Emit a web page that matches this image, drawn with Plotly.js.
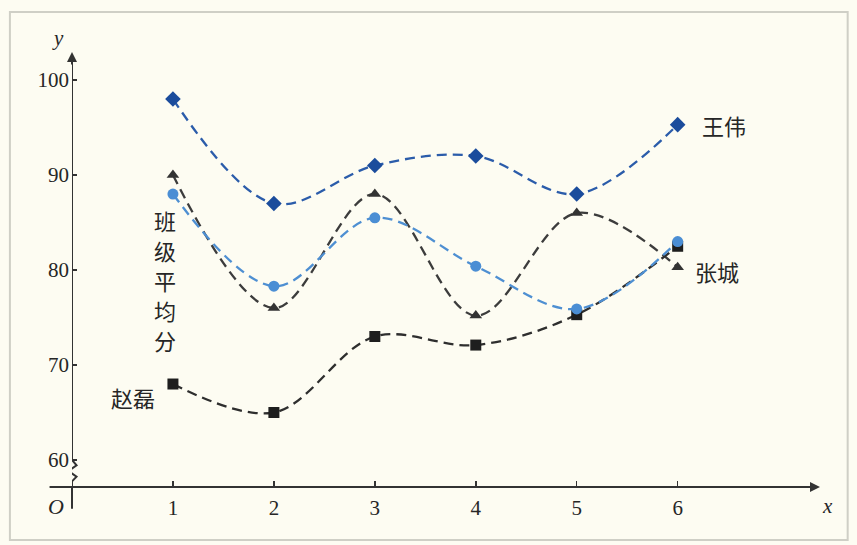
<!DOCTYPE html>
<html>
<head>
<meta charset="utf-8">
<script src="https://cdn.plot.ly/plotly-3.0.1.min.js"></script>
<style>html,body{margin:0;padding:0;background:#fdfcf2;}#chart{width:857px;height:545px;}</style>
</head>
<body>
<div id="chart"></div>
<script>
// Data
const exams = [1, 2, 3, 4, 5, 6];
const wangWei = [98, 87, 91, 92, 88, 95.3];
const classAvg = [88, 78.3, 85.5, 80.4, 75.9, 83];
const zhangCheng = [90, 76, 88, 75.2, 86, 80.3];
const zhaoLei = [68, 65, 73, 72.1, 75.3, 82.5];
const xTicks = [1, 2, 3, 4, 5, 6];
const yTicks = [60, 70, 80, 90, 100];
const names = ['王伟', '班级平均分', '张城', '赵磊'];

const dash = '10px,6px';
function series(y, name, lineColor, markerColor, symbol, size) {
  return {
    x: exams, y: y, name: name, type: 'scatter', mode: 'lines+markers',
    line: {shape: 'spline', smoothing: 1, dash: dash, width: 2.3, color: lineColor},
    marker: {symbol: symbol, size: size, color: markerColor},
    cliponaxis: false, hoverinfo: 'skip'
  };
}
const traces = [
  series(zhangCheng, names[2], '#3c3c3c', '#333333', 'triangle-up', 11),
  series(zhaoLei, names[3], '#2e2e2e', '#1e1e1e', 'square', 11),
  series(classAvg, names[1], '#4e8fd2', '#4b8ed4', 'circle', 11),
  series(wangWei, names[0], '#2b5caa', '#1b4c9c', 'diamond', 12)
];

const yMin = 57.16, yMax = 102.95;
const serif = 'Liberation Serif, DejaVu Serif, serif';
const cjk = 'Noto Sans CJK SC, sans-serif';
const axisColor = '#333333';
const textColor = '#262626';

// vertical label: one annotation per character, 30 px apart
const vertChars = names[1].split('');
const vertAnn = vertChars.map((c, i) => ({
  x: 0.92, y: 85.25 - i * 3.16, xanchor: 'center', yanchor: 'middle', text: c,
  showarrow: false, font: {family: cjk, size: 22, color: textColor}
}));

const layout = {
  width: 857, height: 545,
  margin: {l: 72, r: 37, t: 52, b: 58},
  paper_bgcolor: '#fdfcf2', plot_bgcolor: '#fdfcf2',
  showlegend: false,
  xaxis: {
    range: [0, 7.41], tickvals: xTicks, ticktext: xTicks.map(String),
    showgrid: false, zeroline: false, showline: false,
    ticks: 'inside', ticklen: 6, tickwidth: 1.5, tickcolor: axisColor,
    ticklabelstandoff: 6,
    tickfont: {family: serif, size: 21, color: textColor}
  },
  yaxis: {
    range: [yMin, yMax], tickvals: yTicks, ticktext: yTicks.map(String),
    showgrid: false, zeroline: false, showline: false,
    ticks: 'inside', ticklen: 5, tickwidth: 1.5, tickcolor: axisColor,
    ticklabelstandoff: 2,
    tickfont: {family: serif, size: 21, color: textColor}
  },
  shapes: [
    // frame of the scanned figure
    {type: 'rect', xref: 'paper', yref: 'paper', x0: -0.083, x1: 1.037, y0: -0.122, y1: 1.092,
     line: {color: '#cfcfc6', width: 2}, layer: 'below'},
    // x axis
    {type: 'line', xref: 'paper', yref: 'paper', x0: -0.03, x1: 0.995, y0: 0, y1: 0,
     line: {color: axisColor, width: 2}},
    // y axis with break
    {type: 'path', xref: 'x', yref: 'y',
     path: 'M 0,' + (yMax - 0.3) + ' L 0,60 L 0.045,59.45 L -0.035,58.85 L 0.045,58.25 L 0,57.75 L 0,' + yMin,
     line: {color: axisColor, width: 2}},
    {type: 'line', xref: 'paper', yref: 'paper', x0: 0, x1: 0, y0: 0, y1: -0.05,
     line: {color: axisColor, width: 2}}
  ],
  annotations: [
    // axis arrows
    {xref: 'paper', yref: 'paper', x: 1, y: 0, ax: -14, ay: 0, text: '', showarrow: true,
     arrowhead: 2, arrowsize: 1, arrowwidth: 2, arrowcolor: axisColor},
    {xref: 'paper', yref: 'paper', x: 0, y: 1, ax: 0, ay: 14, text: '', showarrow: true,
     arrowhead: 2, arrowsize: 1, arrowwidth: 2, arrowcolor: axisColor},
    {xref: 'paper', yref: 'paper', x: -0.008, y: 1.0, xanchor: 'right', yanchor: 'bottom',
     text: '<i>y</i>', showarrow: false, font: {family: serif, size: 21, color: textColor}},
    {xref: 'paper', yref: 'paper', x: 1.0, y: -0.012, xanchor: 'left', yanchor: 'top',
     text: '<i>x</i>', showarrow: false, font: {family: serif, size: 21, color: textColor}},
    {xref: 'paper', yref: 'paper', x: -0.008, y: -0.012, xanchor: 'right', yanchor: 'top',
     text: '<i>O</i>', showarrow: false, font: {family: serif, size: 22, color: textColor}},
    // series labels
    {x: 6.22, y: 95.3, xanchor: 'left', yanchor: 'middle', text: names[0], showarrow: false,
     font: {family: cjk, size: 22, color: textColor}},
    {x: 6.15, y: 79.9, xanchor: 'left', yanchor: 'middle', text: names[2], showarrow: false,
     font: {family: cjk, size: 22, color: textColor}},
    {x: 0.84, y: 66.6, xanchor: 'right', yanchor: 'middle', text: names[3], showarrow: false,
     font: {family: cjk, size: 22, color: textColor}}
  ].concat(vertAnn)
};

Plotly.newPlot('chart', traces, layout, {staticPlot: true, displayModeBar: false});
</script>
</body>
</html>
